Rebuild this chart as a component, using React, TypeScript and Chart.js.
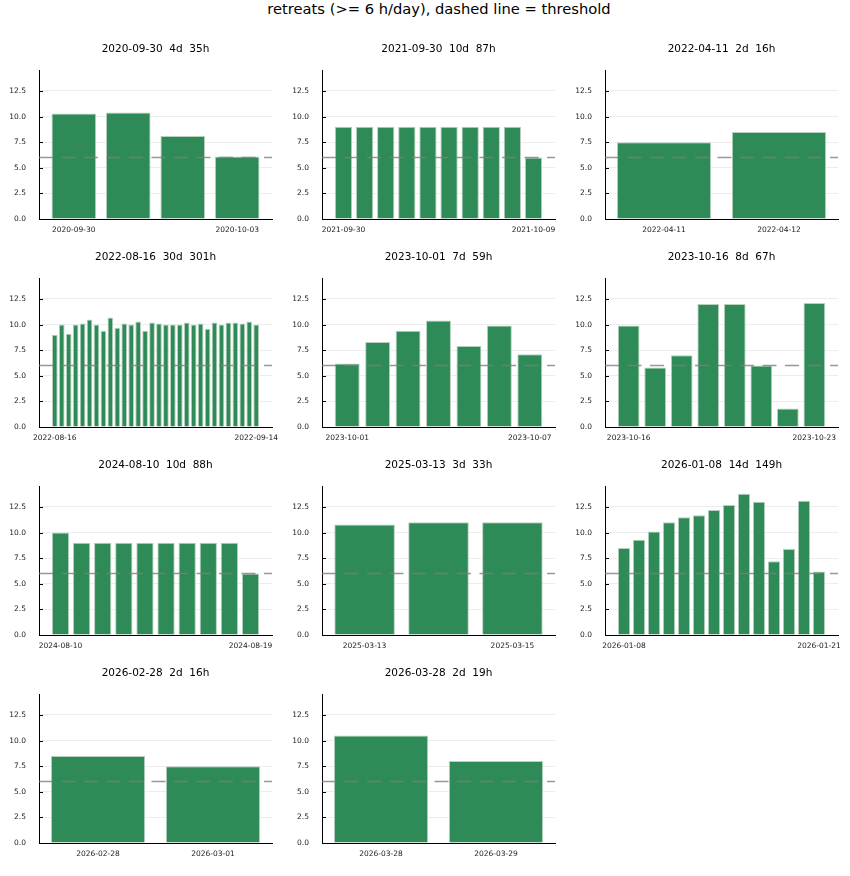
import React, { useEffect, useRef } from "react";
import { Chart, registerables } from "chart.js";

Chart.register(...registerables);

const FONT = "'DejaVu Sans', sans-serif";
const MAIN_TITLE = "retreats (>= 6 h/day), dashed line = threshold";
const THRESHOLD = 6;
const Y_MAX = 14.5;
const Y_TICKS = [0, 2.5, 5, 7.5, 10, 12.5];

// panel titles
const panelTitles = [
  "2020-09-30  4d  35h",
  "2021-09-30  10d  87h",
  "2022-04-11  2d  16h",
  "2022-08-16  30d  301h",
  "2023-10-01  7d  59h",
  "2023-10-16  8d  67h",
  "2024-08-10  10d  88h",
  "2025-03-13  3d  33h",
  "2026-01-08  14d  149h",
  "2026-02-28  2d  16h",
  "2026-03-28  2d  19h",
];

// hours per day for each retreat
const hours2020_09_30 = [10.3, 10.4, 8.1, 6.1];
const hours2021_09_30 = [9.0, 9.0, 9.0, 9.0, 9.0, 9.0, 9.0, 9.0, 9.0, 6.0];
const hours2022_04_11 = [7.5, 8.5];
const hours2022_08_16 = [
  9.0, 10.0, 9.1, 10.0, 10.1, 10.5, 10.0, 9.4, 10.7, 9.7,
  10.1, 10.0, 10.3, 9.4, 10.2, 10.1, 10.0, 10.0, 10.0, 10.2,
  10.0, 10.1, 9.6, 10.2, 10.0, 10.2, 10.2, 10.1, 10.3, 10.0,
];
const hours2023_10_01 = [6.2, 8.3, 9.4, 10.4, 7.9, 9.9, 7.1];
const hours2023_10_16 = [9.9, 5.8, 7.0, 12.0, 12.0, 6.0, 1.8, 12.1];
const hours2024_08_10 = [10.0, 9.0, 9.0, 9.0, 9.0, 9.0, 9.0, 9.0, 9.0, 6.0];
const hours2025_03_13 = [10.8, 11.0, 11.0];
const hours2026_01_08 = [8.5, 9.3, 10.1, 11.0, 11.5, 11.7, 12.2, 12.7, 13.8, 13.0, 7.2, 8.4, 13.1, 6.2];
const hours2026_02_28 = [8.5, 7.5];
const hours2026_03_28 = [10.5, 8.0];

// first / last date tick labels
const ticks2020_09_30 = ["2020-09-30", "2020-10-03"];
const ticks2021_09_30 = ["2021-09-30", "2021-10-09"];
const ticks2022_04_11 = ["2022-04-11", "2022-04-12"];
const ticks2022_08_16 = ["2022-08-16", "2022-09-14"];
const ticks2023_10_01 = ["2023-10-01", "2023-10-07"];
const ticks2023_10_16 = ["2023-10-16", "2023-10-23"];
const ticks2024_08_10 = ["2024-08-10", "2024-08-19"];
const ticks2025_03_13 = ["2025-03-13", "2025-03-15"];
const ticks2026_01_08 = ["2026-01-08", "2026-01-21"];
const ticks2026_02_28 = ["2026-02-28", "2026-03-01"];
const ticks2026_03_28 = ["2026-03-28", "2026-03-29"];

const panelValues = [
  hours2020_09_30, hours2021_09_30, hours2022_04_11, hours2022_08_16,
  hours2023_10_01, hours2023_10_16, hours2024_08_10, hours2025_03_13,
  hours2026_01_08, hours2026_02_28, hours2026_03_28,
];
const panelTicks = [
  ticks2020_09_30, ticks2021_09_30, ticks2022_04_11, ticks2022_08_16,
  ticks2023_10_01, ticks2023_10_16, ticks2024_08_10, ticks2025_03_13,
  ticks2026_01_08, ticks2026_02_28, ticks2026_03_28,
];

const thresholdPlugin = {
  id: "thresholdLine",
  afterDatasetsDraw(chart: any) {
    const { ctx, chartArea, scales } = chart;
    const y = scales.y.getPixelForValue(THRESHOLD);
    ctx.save();
    ctx.beginPath();
    ctx.rect(chartArea.left, chartArea.top, chartArea.right - chartArea.left, chartArea.bottom - chartArea.top);
    ctx.clip();
    ctx.strokeStyle = "rgba(125,125,125,0.8)";
    ctx.lineWidth = 1.5;
    ctx.setLineDash([14, 8.5]);
    ctx.beginPath();
    ctx.moveTo(chartArea.left, y);
    ctx.lineTo(chartArea.right, y);
    ctx.stroke();
    ctx.restore();
    // inner tick marks on y axis
    ctx.save();
    ctx.strokeStyle = "#000";
    ctx.lineWidth = 1;
    for (const t of scales.y.ticks) {
      const py = Math.round(scales.y.getPixelForValue(t.value)) + 0.5;
      ctx.beginPath();
      ctx.moveTo(chartArea.left, py);
      ctx.lineTo(chartArea.left + 4, py);
      ctx.stroke();
    }
    ctx.restore();
  },
};

function Panel({ title, values, ticks, left, top }: any) {
  const ref = useRef<HTMLCanvasElement>(null);
  useEffect(() => {
    const n = values.length;
    const pad = 0.063 * (n - 0.2);
    const chart = new Chart(ref.current as HTMLCanvasElement, {
      type: "bar",
      data: {
        datasets: [
          {
            data: values.map((v: number, i: number) => ({ x: i, y: v })),
            backgroundColor: "#2E8B57",
            borderColor: "#b9d0c0",
            borderWidth: 1,
            barPercentage: 0.82,
            categoryPercentage: 1,
          },
        ],
      },
      options: {
        animation: false,
        responsive: false,
        layout: { padding: { left: 0, right: 11, top: 0, bottom: 0 } },
        plugins: {
          legend: { display: false },
          tooltip: { enabled: false },
          title: {
            display: true,
            text: title,
            fullSize: false,
            color: "#000",
            font: { family: FONT, size: 10.5, weight: "normal" },
            padding: { top: 12.7, bottom: 15.2 },
          },
        },
        scales: {
          x: {
            type: "linear",
            offset: false,
            bounds: "data",
            z: 1,
            min: -0.4 - pad,
            max: n - 1 + 0.4 + pad,
            grid: { display: false, drawTicks: false, tickLength: 0 },
            border: { display: true, color: "#000", width: 1 },
            ticks: {
              autoSkip: false,
              maxRotation: 0,
              minRotation: 0,
              padding: 7,
              color: "#222",
              font: { family: FONT, size: 7.5 },
              callback: (_v: any, i: number) => (i === 0 ? ticks[0] : ticks[1]),
            },
            afterBuildTicks: (s: any) => {
              s.ticks = [{ value: 0 }, { value: n - 1 }];
            },
            afterFit: (s: any) => {
              s.height = 19;
              s.paddingLeft = 0;
              s.paddingRight = 0;
            },
          },
          y: {
            type: "linear",
            min: 0,
            max: Y_MAX,
            grid: { color: "rgba(0,0,0,0.07)", drawTicks: false },
            border: { display: true, color: "#000", width: 1 },
            ticks: {
              padding: 13,
              color: "#222",
              font: { family: FONT, size: 7.5 },
              callback: (v: any) => Number(v).toFixed(1),
            },
            afterBuildTicks: (s: any) => {
              s.ticks = Y_TICKS.map((v) => ({ value: v }));
            },
            afterFit: (s: any) => {
              s.width = 39;
              s.paddingTop = 0;
              s.paddingBottom = 0;
            },
          },
        },
      } as any,
      plugins: [thresholdPlugin],
    });
    return () => chart.destroy();
  }, []);
  return (
    <canvas
      ref={ref}
      width={283}
      height={208}
      style={{ position: "absolute", left, top, width: 283, height: 208, display: "block" }}
    />
  );
}

export default function App() {
  return (
    <div style={{ position: "absolute", left: 0, top: 0, width: 850, height: 876, background: "#fff" }}>
      <div
        style={{
          position: "absolute",
          left: 0,
          top: 0,
          width: 878,
          textAlign: "center",
          fontFamily: FONT,
          fontSize: 14.7,
          lineHeight: "17px",
          color: "#000",
        }}
      >
        {MAIN_TITLE}
      </div>
      {panelValues.map((vals, k) => {
        const r = Math.floor(k / 3);
        const c = k % 3;
        return (
          <Panel
            key={k}
            title={panelTitles[k]}
            values={vals}
            ticks={panelTicks[k]}
            left={283 * c}
            top={30 + 208 * r}
          />
        );
      })}
    </div>
  );
}
